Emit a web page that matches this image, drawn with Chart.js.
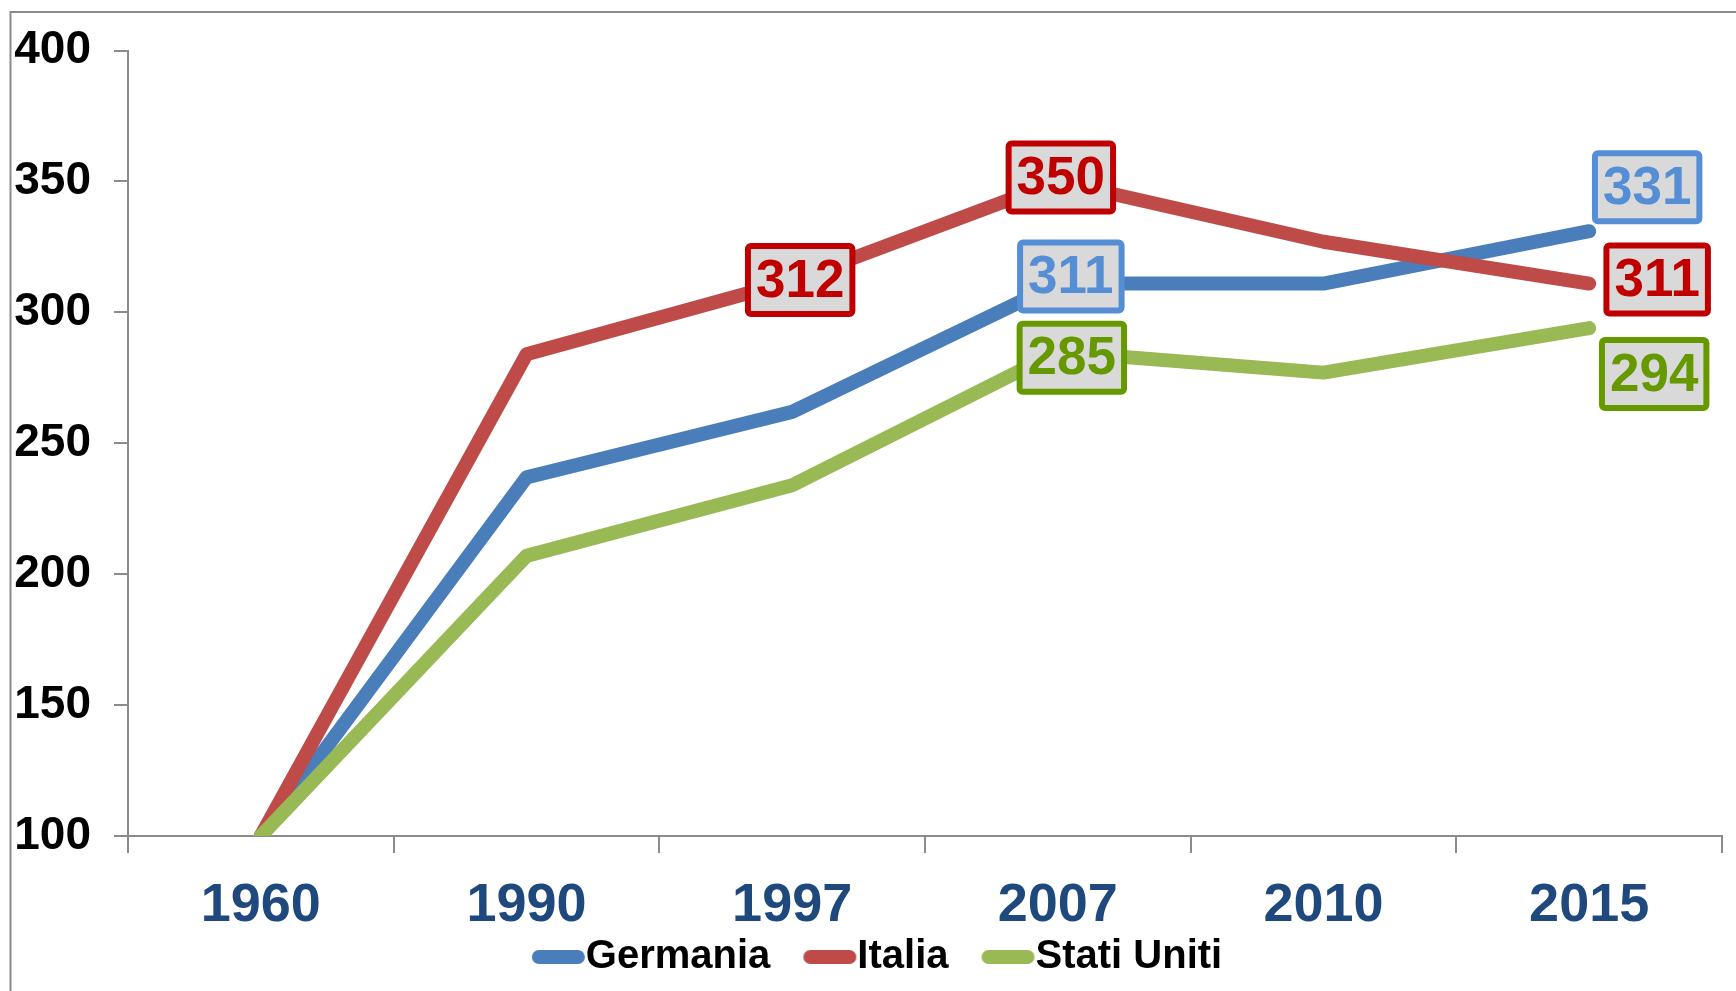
<!DOCTYPE html>
<html>
<head>
<meta charset="utf-8">
<script src="https://cdn.jsdelivr.net/npm/chart.js@4.4.1/dist/chart.umd.min.js"></script>
<style>
  html, body { margin: 0; padding: 0; background: #ffffff; }
  #wrap { width: 1736px; height: 991px; position: relative; }
</style>
</head>
<body>
<div id="wrap"><canvas id="c" width="1736" height="991"></canvas></div>
<script>
// ---- data ----
const years = ['1960', '1990', '1997', '2007', '2010', '2015'];
const germania = [100, 237, 262, 311, 311, 331];
const italia = [100, 284, 312, 350, 327, 311];
const statiUniti = [100, 207, 234, 285, 277, 294];
const seriesNames = ['Germania', 'Italia', 'Stati Uniti'];
const yTicks = [100, 150, 200, 250, 300, 350, 400];

// which points carry a boxed value label (dataset index, point index)
const labelledPoints = [
  [1, 2], [1, 3], [1, 5],
  [0, 3], [0, 5],
  [2, 3], [2, 5]
];

// ---- styles ----
const lineColors = ['#4A7EBB', '#BE4B48', '#98B954'];
const boxColors = ['#558ED5', '#C00000', '#669900'];
// label box offsets from the point (pixels)
const labelOffsets = {
  '1-2': [8, -1], '1-3': [3, -4], '1-5': [68, -4],
  '0-3': [13, -7], '0-5': [58, -44],
  '2-3': [14, 6], '2-5': [65, 46]
};

// legend marker: a rounded bar drawn off-centre so it sits right against the text
function legendMarker(color) {
  const c = document.createElement('canvas');
  c.width = 120; c.height = 20;
  const g = c.getContext('2d');
  g.strokeStyle = color;
  g.lineWidth = 14;
  g.lineCap = 'round';
  g.beginPath();
  g.moveTo(44 + 7, 10);
  g.lineTo(97 - 7, 10);
  g.stroke();
  return c;
}

const frame = {
  id: 'frame',
  beforeDraw(chart) {
    const ctx = chart.ctx;
    ctx.save();
    ctx.fillStyle = '#ffffff';
    ctx.fillRect(0, 0, chart.width, chart.height);
    ctx.strokeStyle = '#8c8c8c';
    ctx.lineWidth = 2;
    ctx.beginPath();
    ctx.moveTo(10.5, chart.height + 5);
    ctx.lineTo(10.5, 12);
    ctx.lineTo(chart.width + 5, 12);
    ctx.stroke();
    ctx.restore();
  }
};

// let the category labels run down over the legend band (as in the original),
// and nudge the legend's centring a little to the right
const labelRoom = {
  id: 'labelRoom',
  afterLayout(chart) {
    const xs = chart.scales.x;
    if (xs) xs.bottom = chart.height;
    const lg = chart.legend;
    if (lg) { lg.left += 30; }
  }
};

function roundRect(ctx, x, y, w, h, r) {
  ctx.beginPath();
  ctx.moveTo(x + r, y);
  ctx.lineTo(x + w - r, y);
  ctx.arcTo(x + w, y, x + w, y + r, r);
  ctx.lineTo(x + w, y + h - r);
  ctx.arcTo(x + w, y + h, x + w - r, y + h, r);
  ctx.lineTo(x + r, y + h);
  ctx.arcTo(x, y + h, x, y + h - r, r);
  ctx.lineTo(x, y + r);
  ctx.arcTo(x, y, x + r, y, r);
  ctx.closePath();
}

const valueBoxes = {
  id: 'valueBoxes',
  afterDatasetsDraw(chart) {
    const ctx = chart.ctx;
    ctx.save();
    ctx.font = 'bold 53px "Liberation Sans", Arial, sans-serif';
    ctx.textAlign = 'center';
    ctx.textBaseline = 'middle';
    labelledPoints.forEach(([d, i]) => {
      const meta = chart.getDatasetMeta(d);
      const pt = meta.data[i];
      const off = labelOffsets[d + '-' + i] || [0, 0];
      const cx = pt.x + off[0];
      const cy = pt.y + off[1];
      const value = chart.data.datasets[d].data[i];
      const text = String(value);
      const tw = ctx.measureText(text).width;
      const lw = 6;
      const w = tw + 22 - lw;
      const h = 74 - lw;
      ctx.fillStyle = '#D9D9D9';
      roundRect(ctx, cx - w / 2, cy - h / 2, w, h, 3);
      ctx.fill();
      ctx.lineWidth = lw;
      ctx.strokeStyle = boxColors[d];
      ctx.stroke();
      ctx.fillStyle = boxColors[d];
      ctx.fillText(text, cx, cy + 2);
    });
    ctx.restore();
  }
};

const allSeries = [germania, italia, statiUniti];
const markers = lineColors.map(legendMarker);

new Chart(document.getElementById('c'), {
  type: 'line',
  data: {
    labels: years,
    datasets: allSeries.map((arr, k) => ({
      label: seriesNames[k],
      data: arr,
      borderColor: lineColors[k],
      backgroundColor: lineColors[k],
      borderWidth: 14,
      borderCapStyle: 'round',
      borderJoinStyle: 'round',
      pointRadius: 0,
      tension: 0,
      clip: 0,
      order: 3 - k
    }))
  },
  options: {
    responsive: false,
    animation: false,
    layout: { padding: { left: 0, right: 14, top: 45, bottom: 4 } },
    plugins: {
      tooltip: { enabled: false },
      legend: {
        position: 'bottom',
        align: 'center',
        labels: {
          font: { family: '"Liberation Sans", Arial, sans-serif', size: 40, weight: 'bold' },
          color: '#000000',
          usePointStyle: true,
          pointStyleWidth: 36,
          boxHeight: 14,
          padding: 31,
          generateLabels(chart) {
            return chart.data.datasets.map((ds, i) => ({
              text: ds.label,
              fillStyle: ds.borderColor,
              strokeStyle: ds.borderColor,
              lineWidth: 0,
              pointStyle: markers[i],
              hidden: false,
              datasetIndex: i,
              fontColor: '#000000'
            }));
          }
        }
      }
    },
    scales: {
      x: {
        offset: true,
        afterFit(scale) { scale.height = 70; },
        grid: {
          offset: true,
          drawOnChartArea: false,
          drawTicks: true,
          tickLength: 17,
          color: '#8c8c8c',
          lineWidth: 2
        },
        border: { color: '#8c8c8c', width: 2 },
        ticks: {
          color: '#1F497D',
          padding: 21,
          maxRotation: 0,
          font: { family: '"Liberation Sans", Arial, sans-serif', size: 54, weight: 'bold' }
        }
      },
      y: {
        min: 100,
        max: 400,
        afterFit(scale) { scale.width = 128; },
        afterBuildTicks(scale) { scale.ticks = yTicks.map(v => ({ value: v })); },
        grid: {
          drawOnChartArea: false,
          drawTicks: true,
          tickLength: 14,
          color: '#8c8c8c',
          lineWidth: 2
        },
        border: { color: '#8c8c8c', width: 2 },
        ticks: {
          color: '#000000',
          padding: 23,
          font: { family: '"Liberation Sans", Arial, sans-serif', size: 46, weight: 'bold' }
        }
      }
    }
  },
  plugins: [frame, labelRoom, valueBoxes]
});
</script>
</body>
</html>
